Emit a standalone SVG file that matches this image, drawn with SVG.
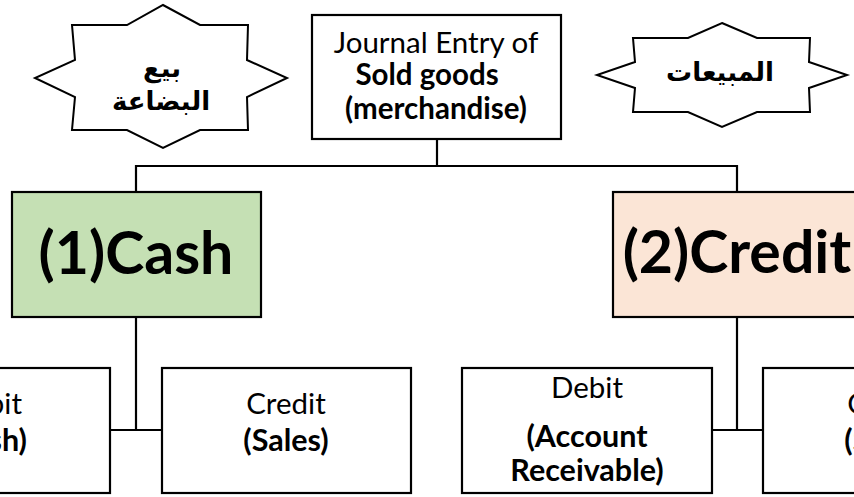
<svg xmlns="http://www.w3.org/2000/svg" width="854" height="497" viewBox="0 0 854 497">
<style>
.box{stroke:#000;stroke-width:2.2;fill:#fff}
.star{stroke:#000;stroke-width:2;fill:#fff;stroke-linejoin:miter}
.ln{stroke:#000;stroke-width:2.2;fill:none}
.t{font-family:Lato,"Open Sans","Liberation Sans",sans-serif;fill:#000;text-anchor:middle}
.r{font-size:29.5px}
.b{font-size:30.5px;font-weight:bold}
.jb{font-size:29.5px;font-weight:bold}
.big{font-size:59px;font-weight:bold}
.ar{font-family:"DejaVu Sans","Noto Sans",sans-serif;font-weight:bold;font-size:26px;fill:#000;text-anchor:middle}
</style>
<g id="connectors">
<polyline class="ln" points="437,139 437,166"/>
<polyline class="ln" points="136,192 136,166 737,166 737,192"/>
<polyline class="ln" points="136,317 136,430"/>
<polyline class="ln" points="110,430 162,430"/>
<polyline class="ln" points="737,317 737,430"/>
<polyline class="ln" points="712,430 763,430"/>
</g>
<g id="star-left">
<polygon class="star" points="163,5 200,25 248,25 247,60 287,78 247,97 248,130 200,130 163,148 127,130 72,130 75,97 35,78 75,60 72,25 127,25"/>
<text class="ar" x="162" y="77">بيع</text>
<text class="ar" x="161" y="110">البضاعة</text>
</g>
<g id="star-right">
<polygon class="star" points="722,23 757,38 810,38 809,62 847,75 809,88 810,112 757,112 722,127 688,112 633,112 635,88 597,75 635,62 633,38 688,38"/>
<text class="ar" x="720" y="81">المبيعات</text>
</g>
<g id="journal">
<rect class="box" x="312" y="15" width="249" height="124"/>
<text class="t r" x="436" y="53">Journal Entry of</text>
<text class="t jb" x="427" y="85">Sold goods</text>
<text class="t jb" x="436" y="119">(merchandise)</text>
</g>
<g id="cash">
<rect class="box" x="12" y="192" width="249" height="125" style="fill:#c5e0b4"/>
<text class="t big" x="136" y="274">(1)Cash</text>
</g>
<g id="credit">
<rect class="box" x="613" y="192" width="249" height="125" style="fill:#fbe5d6"/>
<text class="t big" x="737" y="273">(2)Credit</text>
</g>
<g id="cash-debit">
<rect class="box" x="-138" y="368" width="248" height="125"/>
<text class="t r" x="-14" y="414">Debit</text>
<text class="t b" x="-14" y="451">(Cash)</text>
</g>
<g id="cash-credit">
<rect class="box" x="162" y="368" width="249" height="125"/>
<text class="t r" x="286" y="414">Credit</text>
<text class="t b" x="286" y="451">(Sales)</text>
</g>
<g id="credit-debit">
<rect class="box" x="462" y="368" width="250" height="125"/>
<text class="t r" x="587" y="398">Debit</text>
<text class="t b" x="587" y="447">(Account</text>
<text class="t b" x="587" y="481">Receivable)</text>
</g>
<g id="credit-credit">
<rect class="box" x="763" y="368" width="249" height="125"/>
<text class="t r" x="887" y="414">Credit</text>
<text class="t b" x="887" y="451">(Sales)</text>
</g>
</svg>
